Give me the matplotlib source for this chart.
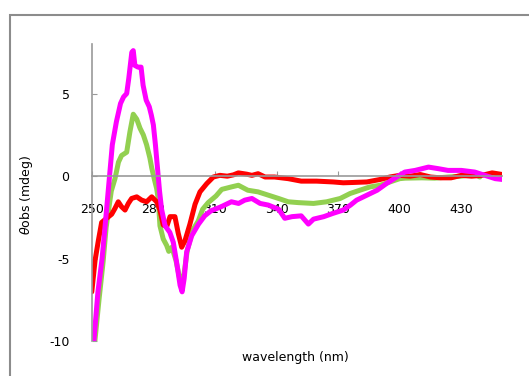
import matplotlib
matplotlib.use("Agg")
import matplotlib.pyplot as plt
from matplotlib.patches import Rectangle

# CD spectra
red_wl = [250, 251.6, 253.2, 254.8, 257.2, 259.7, 261.3, 262.9, 264.5, 266.2, 267.8, 269.4,
          271.9, 274.3, 276.7, 279.2, 281.6, 283.2, 284.8, 286.5, 288.1, 290.5, 292.1, 293.8,
          295.4, 297.8, 300.3, 302.7, 306, 309.2, 312.4, 316, 319, 321.4, 325.5, 328, 331,
          334.4, 339, 345.7, 352, 359.5, 367.6, 372.5, 377.5, 384, 390.4, 395.2, 400, 405,
          410, 415, 420, 425, 430, 435, 440, 445, 450]
red_val = [-7.0, -5.1, -3.9, -2.8, -2.55, -2.3, -1.95, -1.55, -1.85, -2.05, -1.65, -1.35,
           -1.25, -1.45, -1.55, -1.25, -1.55, -2.05, -2.95, -3.05, -2.45, -2.45, -3.45, -4.3,
           -3.9, -2.9, -1.7, -0.95, -0.45, -0.05, 0.05, 0.0, 0.08, 0.2, 0.12, 0.05, 0.15,
           -0.05, -0.05, -0.15, -0.3, -0.3, -0.35, -0.4, -0.38, -0.35, -0.2, -0.05, 0.05, 0.0,
           0.1, -0.05, -0.1, -0.1, 0.05, 0.0, 0.05, 0.2, 0.1]

green_wl = [251.5, 253.5, 255.5, 257, 259.5, 261.3, 263, 264.5, 267, 268.6, 270.2, 271.9,
            273.5, 275.1, 276.7, 278.3, 279.2, 280.5, 281.6, 282.4, 283.2, 284.8, 286.5, 287.5,
            289, 291, 293, 294.5, 296.5, 299, 301.9, 304, 306.7, 310.5, 313.3, 318, 321.4,
            326, 331, 336, 341, 345.7, 350.6, 358, 364.4, 371, 375.8, 380.6, 385.5, 390.4,
            395.2, 400, 402.6, 410.7, 417, 423.6, 430, 436.6, 439]
green_val = [-10.0, -7.5, -5.2, -3.1, -0.9, -0.15, 0.85, 1.25, 1.45, 2.7, 3.75, 3.45,
             2.9, 2.5, 1.9, 1.1, 0.5, -0.2, -0.75, -1.4, -3.0, -3.8, -4.2, -4.55,
             -4.3, -5.1, -6.3, -6.3, -4.5, -3.3, -2.7, -2.0, -1.6, -1.2, -0.8, -0.65, -0.55,
             -0.85, -0.95, -1.15, -1.35, -1.55, -1.6, -1.65, -1.55, -1.35, -1.05, -0.85, -0.65, -0.55,
             -0.35, -0.15, -0.12, -0.1, -0.12, -0.05, 0.0, 0.12, -0.05]

magenta_wl = [251, 253, 255, 256.5, 258, 260, 262, 264, 265.5, 267, 268, 269.5, 270.2, 271,
              272.5, 274, 275, 276.5, 278, 279, 280, 281, 282, 283, 284, 285.7, 288, 289.7,
              291.3, 293, 294, 295, 296.2, 298.7, 302, 305, 308, 313, 318, 321.5, 324.5, 328,
              332, 336, 341, 344, 347.5, 352, 355.5, 358, 363, 367.5, 372.5, 376, 379, 384,
              389, 393.5, 398.5, 402.5, 407.5, 414, 419, 423.5, 430, 436.5, 441.5, 446.5, 450]
magenta_val = [-10.0, -7.0, -5.0, -3.0, -0.9, 1.9, 3.3, 4.4, 4.8, 5.0, 5.9, 7.5, 7.6, 6.7,
               6.6, 6.6, 5.5, 4.6, 4.2, 3.7, 3.1, 1.9, 0.5, -0.9, -2.0, -3.0, -3.4, -4.0,
               -5.2, -6.6, -7.0, -6.2, -4.6, -3.6, -2.9, -2.4, -2.1, -1.85, -1.55, -1.65, -1.45, -1.35,
               -1.65, -1.75, -2.0, -2.55, -2.45, -2.4, -2.9, -2.6, -2.45, -2.25, -2.05, -1.75, -1.45, -1.15,
               -0.85, -0.45, -0.05, 0.25, 0.35, 0.55, 0.45, 0.35, 0.35, 0.25, 0.05, -0.15, -0.2]

x_ticks = [250, 280, 310, 340, 370, 400, 430]
y_ticks = [-10, -5, 0, 5]

plt.rcParams['font.family'] = 'DejaVu Sans'
plt.rcParams['font.size'] = 9
plt.rcParams['axes.unicode_minus'] = False

fig = plt.figure(figsize=(5.29, 3.76), dpi=100)
ax = fig.add_axes([0.1735, 0.092, 0.7762, 0.791])

ax.plot(green_wl, green_val, color='#92D050', lw=3.6, solid_capstyle='round')
ax.plot(red_wl, red_val, color='#FF0000', lw=3.6, solid_capstyle='round')
ax.plot(magenta_wl, magenta_val, color='#FF00FF', lw=3.6, solid_capstyle='round')

ax.set_xlim(250, 450)
ax.set_ylim(-10, 8)
ax.set_xticks(x_ticks)
ax.set_yticks(y_ticks)

for s in ['top', 'right']:
    ax.spines[s].set_visible(False)
ax.spines['bottom'].set_position(('data', 0))
for s in ['left', 'bottom']:
    ax.spines[s].set_color('#999999')
    ax.spines[s].set_linewidth(1.2)

ax.tick_params(axis='x', direction='in', length=3.5, color='#999999', pad=19)
ax.tick_params(axis='y', direction='in', length=3.5, color='#999999', pad=16)

fig.text(0.051, 0.481, r'$\theta$obs (mdeg)', rotation=90, ha='center', va='center')
fig.text(0.558, 0.05, 'wavelength (nm)', ha='center', va='center')

# grey chart border (runs off the right and bottom)
fig.patches.append(Rectangle((0.019, -0.05), 1.2, 1.0106, transform=fig.transFigure,
                             fill=False, ec='#8c8c8c', lw=1.5))

fig.savefig('out.png', dpi=100)
